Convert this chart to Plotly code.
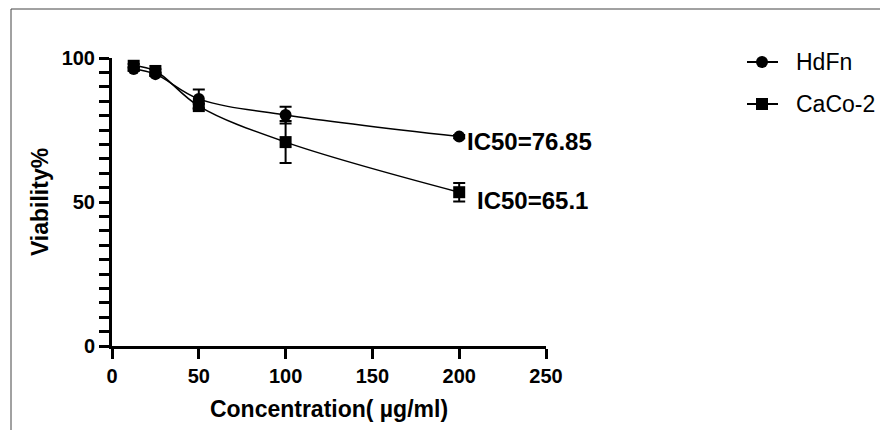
import plotly.graph_objects as go

conc = [12.5, 25, 50, 100, 200]
hdfn = [96.2, 94.4, 85.8, 80.2, 72.7]
hdfn_err = [0.6, 0.6, 3.3, 2.9, 0.6]
caco = [97.3, 95.5, 83.3, 70.8, 53.4]
caco_err = [0.6, 0.6, 0.8, 7.3, 3.2]
series_names = ["HdFn", "CaCo-2"]
ic50_labels = ["IC50=76.85", "IC50=65.1"]
x_ticks = [0, 50, 100, 150, 200, 250]
y_ticks = [0, 50, 100]

FONT = "Liberation Sans, Arial, sans-serif"

W, H = 880, 430
L, R, T, B = 112, 334, 58, 84
pw, ph = W - L - R, H - T - B

def px_x(p):
    return (p - L) / pw

def px_y(p):
    return (H - B - p) / ph

fig = go.Figure()
symbols = ["circle", "square"]
for name, vals, errs, sym in [
    (series_names[0], hdfn, hdfn_err, symbols[0]),
    (series_names[1], caco, caco_err, symbols[1]),
]:
    fig.add_trace(go.Scatter(
        x=conc, y=vals, name=name, mode="lines+markers",
        showlegend=False,
        line=dict(color="black", width=1.5, shape="spline", smoothing=1.0),
        marker=dict(symbol=sym, size=12, color="black"),
        error_y=dict(type="data", array=errs, visible=True, color="black",
                     thickness=2, width=6),
        cliponaxis=False,
    ))

# IC50 labels
fig.add_annotation(x=200, y=hdfn[-1], text="<b>" + ic50_labels[0] + "</b>",
                   xanchor="left", yanchor="middle", xshift=6, yshift=-5,
                   showarrow=False, font=dict(family=FONT, size=24, color="black"))
fig.add_annotation(x=200, y=caco[-1], text="<b>" + ic50_labels[1] + "</b>",
                   xanchor="left", yanchor="middle", xshift=16, yshift=-8,
                   showarrow=False, font=dict(family=FONT, size=24, color="black"))

# manual legend (key symbols + labels)
legend_rows = [62, 104]
for name, sym, yy in zip(series_names, symbols, legend_rows):
    fig.add_shape(type="line", xref="paper", yref="paper",
                  x0=px_x(747), x1=px_x(778), y0=px_y(yy), y1=px_y(yy),
                  line=dict(color="black", width=2))
    r = 6
    fig.add_shape(type="circle" if sym == "circle" else "rect",
                  xref="paper", yref="paper",
                  x0=px_x(762 - r), x1=px_x(762 + r),
                  y0=px_y(yy + r), y1=px_y(yy - r),
                  line=dict(color="black", width=0), fillcolor="black")
    fig.add_annotation(xref="paper", yref="paper", x=px_x(794), y=px_y(yy),
                       xanchor="left", yanchor="middle", text=name,
                       showarrow=False,
                       font=dict(family=FONT, size=23, color="black"))

# outer frame lines (top and left)
fig.add_shape(type="line", xref="paper", yref="paper",
              x0=px_x(11), x1=px_x(880), y0=px_y(9), y1=px_y(9),
              line=dict(color="#444444", width=1))
fig.add_shape(type="line", xref="paper", yref="paper",
              x0=px_x(11), x1=px_x(11), y0=px_y(9), y1=px_y(430),
              line=dict(color="#444444", width=1))

fig.update_layout(
    width=W, height=H,
    margin=dict(l=L, r=R, t=T, b=B),
    paper_bgcolor="white", plot_bgcolor="white",
    font=dict(family=FONT, color="black"),
    showlegend=False,
    xaxis=dict(
        range=[0, 250], tickvals=x_ticks, showgrid=False, zeroline=False,
        showline=True, linecolor="black", linewidth=3,
        ticks="outside", ticklen=10, tickwidth=3, tickcolor="black",
        ticklabelstandoff=0,
        tickfont=dict(family=FONT, size=20, color="black", weight="bold"),
        title=dict(text="<b>Concentration( µg/ml)</b>", standoff=15,
                   font=dict(family=FONT, size=23, color="black")),
    ),
    yaxis=dict(
        range=[0, 100], tickvals=y_ticks, showgrid=False, zeroline=False,
        showline=True, linecolor="black", linewidth=3,
        ticks="outside", ticklen=10, tickwidth=3, tickcolor="black",
        ticklabelstandoff=0,
        tickfont=dict(family=FONT, size=20, color="black", weight="bold"),
        minor=dict(dtick=5, tick0=0, ticks="outside", ticklen=10, tickwidth=3,
                   tickcolor="black", showgrid=False),
        title=dict(text="<b>Viability%</b>", standoff=7,
                   font=dict(family=FONT, size=23, color="black")),
    ),
)

fig.write_html("out.html")
